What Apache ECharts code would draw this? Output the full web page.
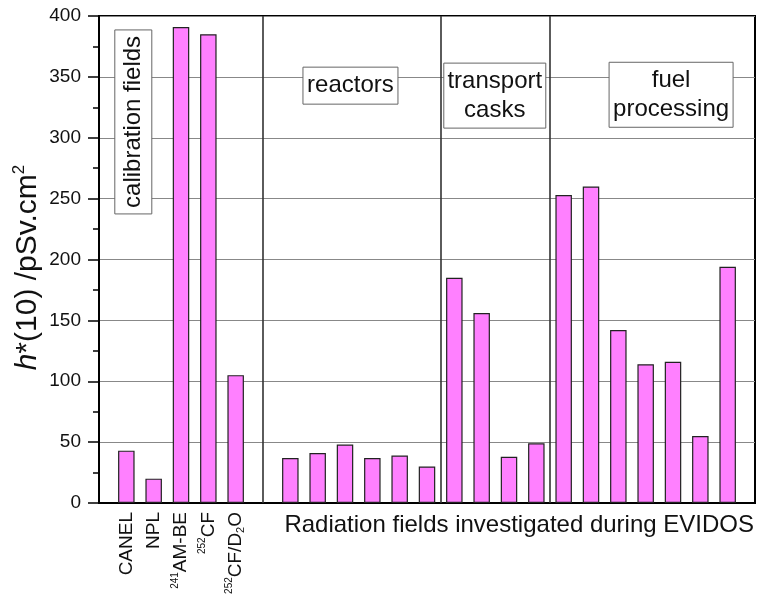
<!DOCTYPE html>
<html><head><meta charset="utf-8">
<script src="https://cdn.jsdelivr.net/npm/echarts@6/dist/echarts.min.js"></script>
<style>html,body{margin:0;padding:0;background:#fff}#c{width:757px;height:600px}</style>
</head><body><div id="c"></div>
<script>
// ---- data ----
const calibrationLabels = ['CANEL', 'NPL', '{sup|241}AM-BE', '{sup|252}CF', '{sup|252}CF/D{sub|2}O'];
const calibrationPositions = [1, 2, 3, 4, 5];
const calibrationValues = [43, 20, 391, 385, 105];
const reactorPositions = [7, 8, 9, 10, 11, 12];
const reactorValues = [37, 41, 48, 37, 39, 30];
const transportPositions = [13, 14, 15, 16];
const transportValues = [185, 156, 38, 49];
const fuelPositions = [17, 18, 19, 20, 21, 22, 23];
const fuelValues = [253, 260, 142, 114, 116, 55, 194];
const sectionDividers = [6, 12.5, 16.5];
const sectionLabels = ['calibration fields', 'reactors', 'transport\ncasks', 'fuel\nprocessing'];
const xAxisName = 'Radiation fields investigated during EVIDOS';
const yAxisName = '{it|h}*(10) /pSv.cm{sup|2}';

// ---- layout (not data) ----
const annotationLayout = [
  {x: 1.255, y: 313, w: 37, h: 184, rotate: true},
  {x: 9.2, y: 342.8, w: 95, h: 37, rotate: false},
  {x: 14.48, y: 334.6, w: 102, h: 65, rotate: false},
  {x: 20.93, y: 335.3, w: 124, h: 65, rotate: false}
];

const FONT = "'Liberation Sans', Arial, Helvetica, sans-serif";
const barData = [];
[[calibrationPositions, calibrationValues], [reactorPositions, reactorValues],
 [transportPositions, transportValues], [fuelPositions, fuelValues]].forEach(([p, v]) => {
  p.forEach((x, i) => barData.push([x, v[i]]));
});

const chart = echarts.init(document.getElementById('c'), null, {renderer: 'canvas'});
const option = {
  animation: false,
  backgroundColor: '#fff',
  grid: {left: 99, right: 2, top: 16, bottom: 97, show: true, borderColor: '#000', borderWidth: 2,
         containLabel: false, outerBoundsMode: 'none'},
  xAxis: {
    type: 'value', min: 0, max: 24,
    name: xAxisName, nameLocation: 'end', nameGap: 0, nameMoveOverlap: false,
    nameTextStyle: {fontFamily: FONT, fontSize: 24, color: '#111', align: 'right', verticalAlign: 'top', padding: [10, 1, 0, 0]},
    axisLine: {show: true, lineStyle: {color: '#000', width: 2}},
    axisTick: {show: false},
    splitLine: {show: false},
    axisLabel: {
      customValues: calibrationPositions,
      interval: 0,
      showMinLabel: true, showMaxLabel: true, hideOverlap: false,
      rotate: 90, margin: 9,
      fontFamily: FONT, fontSize: 19, color: '#111',
      formatter: v => calibrationLabels[calibrationPositions.indexOf(v)] || '',
      rich: {
        sup: {fontFamily: FONT, fontSize: 10, lineHeight: 8, verticalAlign: 'top', color: '#111'},
        sub: {fontFamily: FONT, fontSize: 11, lineHeight: 8, verticalAlign: 'bottom', color: '#111'}
      },
      lineHeight: 22
    }
  },
  yAxis: {
    type: 'value', min: 0, max: 400, interval: 50,
    name: yAxisName, nameLocation: 'middle', nameRotate: 90, nameGap: 54, nameMoveOverlap: false,
    nameTextStyle: {
      fontFamily: FONT, fontSize: 30, color: '#111', lineHeight: 34, padding: [0, 16, 0, 0],
      rich: {
        it: {fontFamily: FONT, fontSize: 30, fontStyle: 'italic', color: '#111', lineHeight: 34},
        sup: {fontFamily: FONT, fontSize: 17, lineHeight: 15, verticalAlign: 'top', color: '#111'}
      }
    },
    axisLine: {show: true, lineStyle: {color: '#000', width: 2}},
    axisTick: {show: true, inside: false, length: 11, lineStyle: {color: '#000', width: 1.5}},
    minorTick: {show: true, splitNumber: 2, length: 6, lineStyle: {color: '#000', width: 1.5}},
    splitLine: {show: true, lineStyle: {color: '#888', width: 1}},
    axisLabel: {margin: 18, fontFamily: FONT, fontSize: 19, color: '#111'}
  },
  series: [{
    type: 'bar',
    data: barData,
    barWidth: 16.5,
    itemStyle: {color: '#ff80ff', borderColor: '#222', borderWidth: 1.2},
    markLine: {
      silent: true, symbol: 'none', label: {show: false},
      lineStyle: {color: '#333', width: 1.6, type: 'solid'},
      data: sectionDividers.map(x => ({xAxis: x}))
    }
  }]
};
chart.setOption(option);

const graphics = [];
annotationLayout.forEach((a, i) => {
  const c = chart.convertToPixel({gridIndex: 0}, [a.x, a.y]);
  graphics.push({
    type: 'rect', z: 100,
    shape: {x: c[0] - a.w / 2, y: c[1] - a.h / 2, width: a.w, height: a.h},
    style: {fill: '#fff', stroke: '#666', lineWidth: 1}
  });
  graphics.push({
    type: 'text', z: 101, x: c[0], y: c[1], rotation: a.rotate ? Math.PI / 2 : 0,
    style: {text: sectionLabels[i], fill: '#111', font: '24px ' + FONT, align: 'center', verticalAlign: 'middle', lineHeight: 29}
  });
});
chart.setOption({graphic: graphics});
</script>
</body></html>
